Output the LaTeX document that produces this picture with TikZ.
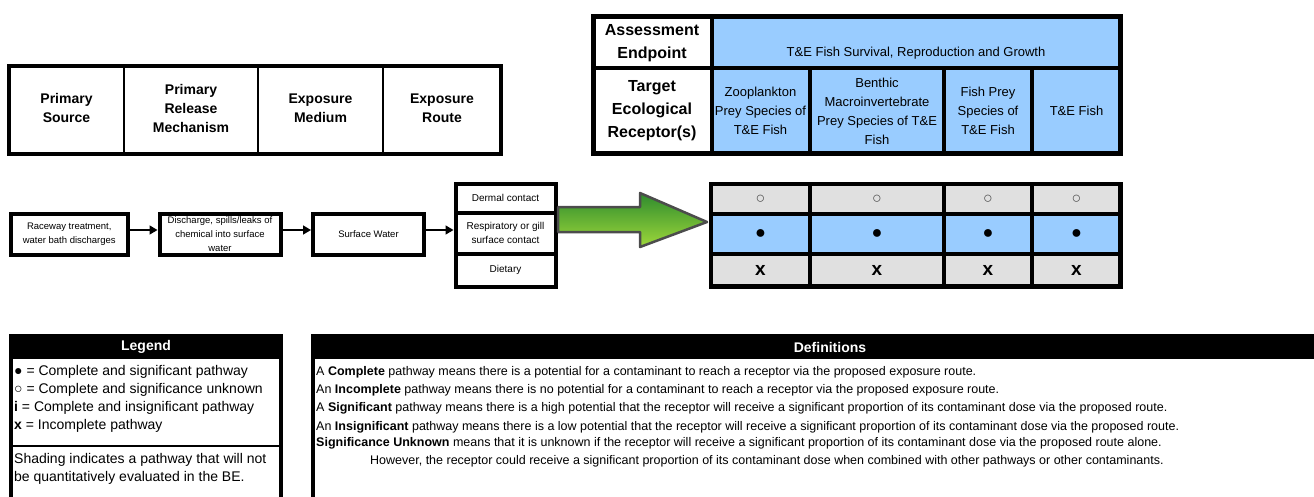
\documentclass[tikz,border=0pt]{standalone}
\usepackage{fontspec}
\setmainfont{Liberation Sans}
\usetikzlibrary{arrows.meta}

\definecolor{cellBlue}{HTML}{99CCFF}
\definecolor{cellGrey}{HTML}{E0E0E0}
\definecolor{arrowDark}{HTML}{2E8B2E}
\definecolor{arrowLight}{HTML}{9ED83A}

\def\matrixLeft{711}
\def\matrixRight{1120.5}

\tikzset{
    flowBox/.style={draw, line width=4pt, inner sep=0pt, align=center,
        font=\fontsize{9.5}{14}\selectfont},
    routeBox/.style={draw, line width=4pt, inner sep=0pt, align=center,
        minimum width=100pt, font=\fontsize{10}{14}\selectfont},
    flowArrow/.style={line width=1.5pt, -{Triangle[length=8pt,width=9pt]}},
    headText/.style={align=center, font=\fontsize{14}{19}\selectfont\bfseries},
    tableHead/.style={align=center, font=\fontsize{16}{23}\selectfont\bfseries},
    receptorText/.style={align=center, font=\fontsize{13}{19}\selectfont},
    legendText/.style={anchor=west, inner sep=0pt, font=\fontsize{14}{18}\selectfont},
    defText/.style={anchor=west, inner sep=0pt, font=\fontsize{12.5}{18}\selectfont}
}

\begin{document}
\begin{tikzpicture}[x=1pt,y=-1pt]
    \useasboundingbox (0,0) rectangle (1314,496);

    % column heads of the pathway part
    \draw [line width=3.5pt] (9,66) rectangle (501,154);
    \foreach \x in {124,258,383}{%
            \draw [line width=2pt] (\x,66) -- (\x,154);
        }
    \node [headText] (headSource)  at (66.5,108) {Primary\\Source};
    \node [headText] (headRelease) at (191,108)  {Primary\\Release\\Mechanism};
    \node [headText] (headMedium)  at (320.5,108) {Exposure\\Medium};
    \node [headText] (headRoute)   at (442,108)  {Exposure\\Route};

    % assessment endpoint and receptors
    \fill [cellBlue] (711.5,16.5) rectangle (\matrixRight,153.5);
    \draw [line width=4.5pt] (593.5,16.5) rectangle (\matrixRight,153.5);
    \draw [line width=4pt] (593.5,67.5) -- (\matrixRight,67.5);
    \draw [line width=4pt] (711.5,16.5) -- (711.5,153.5);
    \foreach \x in {810,944,1032}{%
            \draw [line width=4pt] (\x,67.5) -- (\x,153.5);
        }
    \node [tableHead] (endpointHead) at (652,43)  {Assessment\\Endpoint};
    \node [tableHead] (receptorHead) at (652,111) {Target\\Ecological\\Receptor(s)};
    \node [receptorText] (endpoint) at (916,53) {T\&E Fish Survival, Reproduction and Growth};
    \node [receptorText] (zooplankton) at (760.5,111) {Zooplankton\\Prey Species of\\T\&E Fish};
    \node [receptorText] (benthic)     at (877,111)   {Benthic\\Macroinvertebrate\\Prey Species of T\&E\\Fish};
    \node [receptorText] (fishPrey)    at (988,111)   {Fish Prey\\Species of\\T\&E Fish};
    \node [receptorText] (teFish)      at (1076.5,111) {T\&E Fish};

    % pathway boxes
    \node [flowBox, minimum width=116.5pt, minimum height=41pt] (source)  at (69.25,234) {Raceway treatment,\\water bath discharges};
    \node [flowBox, minimum width=121pt, minimum height=41pt]   (release) at (220,234)   {Discharge, spills/leaks of\\chemical into surface\\water};
    \node [flowBox, minimum width=111pt, minimum height=41pt]   (medium)  at (368.5,234) {Surface Water};

    \node [routeBox, minimum height=28.5pt] (dermal)  at (505.5,198.25) {Dermal contact};
    \node [routeBox, minimum height=41pt]   (gill)    at (505.5,233)    {Respiratory or gill\\surface contact};
    \node [routeBox, minimum height=33pt]   (dietary) at (505.5,270)    {Dietary};

    \draw [flowArrow] ([yshift=4pt]source.east)  -- ([yshift=4pt]release.west);
    \draw [flowArrow] ([yshift=4pt]release.east) -- ([yshift=4pt]medium.west);
    \draw [flowArrow] ([yshift=4pt]medium.east)  -- ([yshift=3pt]gill.west);

    % big arrow
    \shade [top color=arrowDark, bottom color=arrowLight]
        (558,207) -- (640,207) -- (640,193) -- (707,222) -- (640,247) -- (640,232) -- (558,232) -- cycle;
    \draw [black!70, line width=2.5pt, line join=round]
        (558,207) -- (640,207) -- (640,193) -- (707,222) -- (640,247) -- (640,232) -- (558,232) -- cycle;

    % exposure matrix
    \fill [cellGrey] (\matrixLeft,184)   rectangle (\matrixRight,214);
    \fill [cellBlue] (\matrixLeft,214)   rectangle (\matrixRight,253.5);
    \fill [cellGrey] (\matrixLeft,253.5) rectangle (\matrixRight,286.5);
    \draw [line width=4.5pt] (\matrixLeft,184) rectangle (\matrixRight,286.5);
    \foreach \y in {214,253.5}{%
            \draw [line width=4pt] (\matrixLeft,\y) -- (\matrixRight,\y);
        }
    \foreach \x in {810,944,1032}{%
            \draw [line width=4pt] (\x,184) -- (\x,286.5);
        }
    \foreach \c [count=\i] in {760.5,877,988,1076.5}{%
            \node [font=\fontsize{16}{16}\selectfont, text=black!70] (open\i) at (\c,199.5) {○};
            \node [font=\fontsize{18}{18}\selectfont] (full\i) at (\c,234) {●};
            \node [font=\fontsize{19}{19}\selectfont\bfseries] (none\i) at (\c,270) {x};
        }

    % legend
    \fill (9,334) rectangle (283,359);
    \node [font=\fontsize{14}{14}\selectfont\bfseries, text=white] (legendHead) at (146,347) {Legend};
    \draw [line width=4pt] (11,359) -- (11,497);
    \draw [line width=4pt] (281,359) -- (281,497);
    \draw [line width=1.5pt] (9,446) -- (283,446);
    \node [legendText] (legFull)  at (14,372) {{\bfseries ●} = Complete and significant pathway};
    \node [legendText] (legOpen)  at (14,390) {○ = Complete and significance unknown};
    \node [legendText] (legInsig) at (14,408) {{\bfseries i} = Complete and insignificant pathway};
    \node [legendText] (legNone)  at (14,426) {{\bfseries x} = Incomplete pathway};
    \node [legendText, align=left] (legShade) at (14,469) {Shading indicates a pathway that will not\\be quantitatively evaluated in the BE.};

    % definitions
    \fill (311,334) rectangle (1314,359);
    \node [font=\fontsize{14}{14}\selectfont\bfseries, text=white] (defHead) at (830,347) {Definitions};
    \draw [line width=4pt] (313,359) -- (313,497);
    \node [defText] (defComplete)   at (316,372) {A \textbf{Complete} pathway means there is a potential for a contaminant to reach a receptor via the proposed exposure route.};
    \node [defText] (defIncomplete) at (316,390) {An \textbf{Incomplete} pathway means there is no potential for a contaminant to reach a receptor via the proposed exposure route.};
    \node [defText] (defSig)        at (316,408) {A \textbf{Significant} pathway means there is a high potential that the receptor will receive a significant proportion of its contaminant dose via the proposed route.};
    \node [defText] (defInsig)      at (316,427) {An \textbf{Insignificant} pathway means there is a low potential that the receptor will receive a significant proportion of its contaminant dose via the proposed route.};
    \node [defText] (defUnknown)    at (316,443) {\textbf{Significance Unknown} means that it is unknown if the receptor will receive a significant proportion of its contaminant dose via the proposed route alone.};
    \node [defText] (defHowever)    at (370,461) {However, the receptor could receive a significant proportion of its contaminant dose when combined with other pathways or other contaminants.};
\end{tikzpicture}
\end{document}
